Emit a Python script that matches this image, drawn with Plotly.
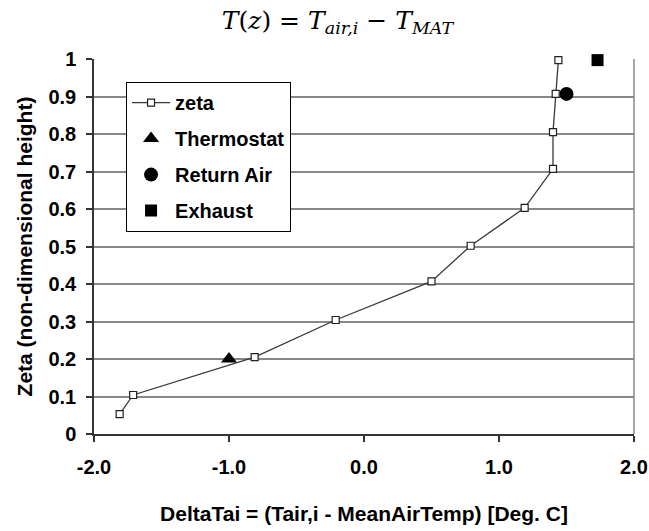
import plotly.graph_objects as go

# Vertical temperature profile: zeta (non-dimensional height) vs DeltaTai
delta_t = [-1.81, -1.71, -0.81, -0.21, 0.50, 0.79, 1.19, 1.40, 1.40, 1.42, 1.44]
zeta = [0.053, 0.104, 0.205, 0.304, 0.407, 0.502, 0.603, 0.707, 0.805, 0.907, 0.997]

thermostat_x, thermostat_y = [-1.0], [0.2]
return_air_x, return_air_y = [1.50], [0.907]
exhaust_x, exhaust_y = [1.73], [0.997]

x_ticks = [-2.0, -1.0, 0.0, 1.0, 2.0]
x_tick_text = ["-2.0", "-1.0", "0.0", "1.0", "2.0"]
y_ticks = [0, 0.1, 0.2, 0.3, 0.4, 0.5, 0.6, 0.7, 0.8, 0.9, 1.0]
y_tick_text = ["0", "0.1", "0.2", "0.3", "0.4", "0.5", "0.6", "0.7", "0.8", "0.9", "1"]

BOLD = "Liberation Sans"
FS = 20


def bold(labels):
    return [f"<b>{t}</b>" for t in labels]


fig = go.Figure()
fig.add_trace(go.Scatter(
    x=delta_t, y=zeta, name="<b>zeta</b>", mode="lines+markers",
    line=dict(color="#3a3a3a", width=1.3),
    marker=dict(symbol="square", size=7, color="white", line=dict(color="#222", width=1.2)),
    legendgroup="a", cliponaxis=False,
))
fig.add_trace(go.Scatter(
    x=thermostat_x, y=thermostat_y, name="<b>Thermostat</b>", mode="markers",
    marker=dict(symbol="triangle-up", size=14, color="black"), legendgroup="b",
    cliponaxis=False,
))
fig.add_trace(go.Scatter(
    x=return_air_x, y=return_air_y, name="<b>Return Air</b>", mode="markers",
    marker=dict(symbol="circle", size=14, color="black"), legendgroup="c",
    cliponaxis=False,
))
fig.add_trace(go.Scatter(
    x=exhaust_x, y=exhaust_y, name="<b>Exhaust</b>", mode="markers",
    marker=dict(symbol="square", size=12, color="black"), legendgroup="d",
    cliponaxis=False,
))

fig.update_layout(
    width=649, height=531,
    margin=dict(l=94, r=15, t=59, b=97),
    paper_bgcolor="white", plot_bgcolor="white",
    showlegend=True,
    legend=dict(
        x=0.059, y=0.939, xanchor="left", yanchor="top",
        bgcolor="white", bordercolor="black", borderwidth=1.2,
        font=dict(family=BOLD, size=FS, color="black"),
        tracegroupgap=7, traceorder="grouped", itemwidth=38,
    ),
    title=dict(
        text="<i>T</i>(<i>z</i>) = <i>T</i><sub><i>air,i</i></sub> − <i>T</i><sub><i>MAT</i></sub>",
        x=0.52, xanchor="center", y=0.962, yanchor="middle",
        font=dict(family="DejaVu Serif", size=25, color="black"),
        automargin=False,
    ),
    shapes=[dict(type="line", xref="x domain", yref="y domain", x0=1, x1=1, y0=0, y1=1,
                 line=dict(color="#888", width=1.5), layer="below")],
)

fig.update_xaxes(
    range=[-2.0, 2.0], tickvals=x_ticks, ticktext=bold(x_tick_text),
    showgrid=False, zeroline=False, automargin=False,
    showline=True, linecolor="#333", linewidth=1.5,
    ticks="outside", ticklen=6, tickcolor="#333", tickwidth=1.5,
    ticklabelstandoff=8,
    tickfont=dict(family=BOLD, size=FS, color="black"),
    title=dict(text="<b>DeltaTai = (Tair,i - MeanAirTemp) [Deg. C]</b>",
               font=dict(family=BOLD, size=21, color="black"), standoff=30),
)
fig.update_yaxes(
    range=[0, 1.0], tickvals=y_ticks, ticktext=bold(y_tick_text),
    showgrid=True, gridcolor="#888", gridwidth=1.6, zeroline=False, automargin=False,
    showline=True, linecolor="#333", linewidth=1.5,
    ticks="outside", ticklen=6, tickcolor="#333", tickwidth=1.5,
    ticklabelstandoff=6,
    tickfont=dict(family=BOLD, size=FS, color="black"),
    title=dict(text="<b>Zeta (non-dimensional height)</b>",
               font=dict(family=BOLD, size=21, color="black"), standoff=10),
)

fig.write_html("out.html")
